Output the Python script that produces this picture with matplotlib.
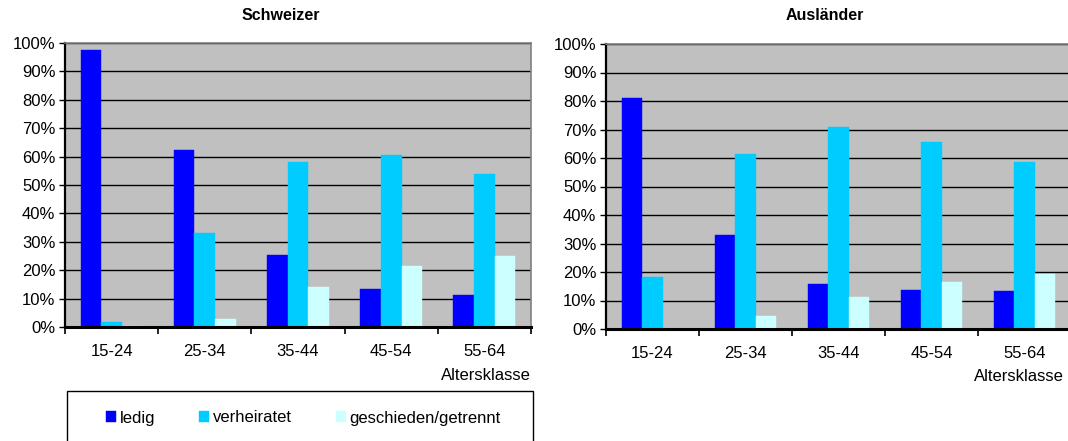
import numpy as np
import matplotlib
matplotlib.use("Agg")
import matplotlib.pyplot as plt
from matplotlib.patches import Rectangle
from matplotlib.ticker import FixedLocator, PercentFormatter

plt.rcParams['font.family'] = ['Liberation Sans', 'DejaVu Sans']

categories = ['15-24', '25-34', '35-44', '45-54', '55-64']
series = ['ledig', 'verheiratet', 'geschieden/getrennt']
colors = ['#0000FF', '#00CCFF', '#CCFFFF']

# Anteile in %
schweizer_ledig = [97.7, 62.4, 25.5, 13.3, 11.4]
schweizer_verh = [1.7, 33.1, 58.1, 60.4, 53.8]
schweizer_gesch = [0.3, 2.8, 14.1, 21.4, 25.0]

auslaender_ledig = [81.2, 33.0, 15.7, 13.7, 13.2]
auslaender_verh = [18.1, 61.5, 70.8, 65.5, 58.7]
auslaender_gesch = [0.0, 4.4, 11.2, 16.4, 19.2]

W, H = 1068, 441
FS = 12
fig = plt.figure(figsize=(W / 100, H / 100), dpi=100)


def px_axes(x0, y0, x1, y1):
    return fig.add_axes([x0 / W, 1 - y1 / H, (x1 - x0) / W, (y1 - y0) / H])


def draw(ax, data, title, title_x):
    x = np.arange(len(categories))
    bw = 0.222
    handles = []
    for i, (vals, c) in enumerate(zip(data, colors)):
        h = ax.bar(x + (i - 1) * bw, vals, width=bw, color=c, edgecolor=c,
                   linewidth=0.3, zorder=3, label=series[i])
        handles.append(h)
    ax.set_facecolor('#C0C0C0')
    ax.set_xlim(-0.5, len(categories) - 0.5)
    ax.set_ylim(0, 100)
    ax.yaxis.set_major_locator(FixedLocator(np.arange(0, 101, 10)))
    ax.yaxis.set_major_formatter(PercentFormatter(decimals=0))
    ax.grid(axis='y', color='black', linewidth=1.0, zorder=1)
    ax.set_axisbelow(True)
    ax.xaxis.set_major_locator(FixedLocator(np.arange(-0.5, len(categories), 1)))
    ax.xaxis.set_major_formatter(plt.NullFormatter())
    ax.xaxis.set_minor_locator(FixedLocator(x))
    ax.set_xticklabels(categories, minor=True)
    ax.tick_params(axis='x', which='major', direction='out', length=5, width=1.2,
                   color='black')
    ax.tick_params(axis='x', which='minor', length=0, pad=12, labelsize=FS)
    ax.tick_params(axis='y', direction='out', length=4, width=1.0, labelsize=FS,
                   pad=3)
    for s in ['top', 'right']:
        ax.spines[s].set_color('#808080')
        ax.spines[s].set_linewidth(1.2)
    ax.spines['left'].set_linewidth(1.6)
    ax.spines['bottom'].set_linewidth(2.2)
    ax.spines['bottom'].set_zorder(5)
    ax.text(1.0, -0.17, 'Altersklasse', transform=ax.transAxes, ha='right',
            va='center', fontsize=FS)
    fig.text(title_x / W, 1 - 16 / H, title, ha='center', va='center',
             fontsize=11.5, fontweight='bold')
    return handles


ax1 = px_axes(65, 43, 531, 327)
handles = draw(ax1, [schweizer_ledig, schweizer_verh, schweizer_gesch],
               'Schweizer', 281)
ax2 = px_axes(606, 44, 1071, 329)
draw(ax2, [auslaender_ledig, auslaender_verh, auslaender_gesch],
     'Ausländer', 825)
ax2.texts[0].set_position((1 - 7 / 465, -0.165))

# legend box (runs off the bottom edge)
fig.patches.append(Rectangle((67 / W, -0.1), (533 - 67) / W, 0.1 + 1 - 391 / H,
                             transform=fig.transFigure, fill=False,
                             edgecolor='black', linewidth=1.0))
fig.legend(handles, series, ncol=3, frameon=False, loc='center left',
           bbox_to_anchor=(106 / W, 1 - 418 / H), fontsize=FS,
           handlelength=0.6, handleheight=0.6, handletextpad=0.25,
           columnspacing=2.6, borderpad=0, borderaxespad=0)

fig.savefig('out.png', dpi=100)
